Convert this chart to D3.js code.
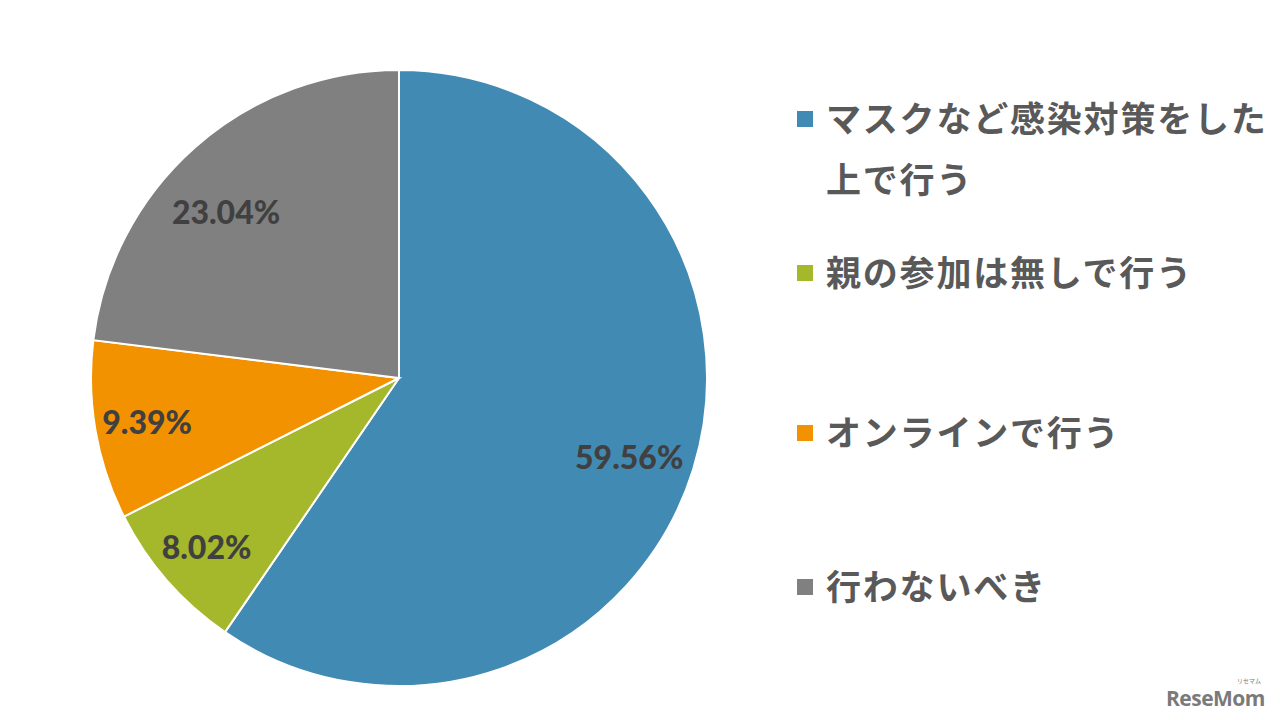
<!DOCTYPE html>
<html><head><meta charset="utf-8">
<script src="https://cdn.jsdelivr.net/npm/d3@7"></script>
<style>body{margin:0;background:#fff;}svg{display:block;}</style>
</head><body>
<svg id="c" width="1280" height="720"></svg>
<script>
const categories = ["マスクなど感染対策をした上で行う","親の参加は無しで行う","オンラインで行う","行わないべき"];
const legendLines = [["マスクなど感染対策をした","上で行う"],["親の参加は無しで行う"],["オンラインで行う"],["行わないべき"]];
const values = [59.56, 8.02, 9.39, 23.04];
const labels = ["59.56%","8.02%","9.39%","23.04%"];
const colors = ["#418AB3","#A5B72A","#F39200","#808080"];

const svg = d3.select("#c");
const cx = 399, cy = 378, R = 308;
const g = svg.append("g").attr("transform", `translate(${cx},${cy})`);
const pie = d3.pie().sort(null).value(d => d)(values);
const arc = d3.arc().innerRadius(0).outerRadius(R);
g.selectAll("path").data(pie).join("path")
  .attr("d", arc).attr("fill", (d,i) => colors[i])
  .attr("stroke", "#fff").attr("stroke-width", 2);
// label placement (radius fraction, angle nudge in radians)
const lblR = [0.79, 0.83, 0.83, 0.78];
const lblNudge = [0.03, 0, 0, -0.08];
g.selectAll("text.lbl").data(pie).join("text").attr("class","lbl")
  .attr("transform", (d,i) => {
    const a = (d.startAngle + d.endAngle)/2 + lblNudge[i], r = R*lblR[i];
    return `translate(${Math.sin(a)*r},${-Math.cos(a)*r})`;
  })
  .attr("text-anchor","middle").attr("dominant-baseline","central")
  .attr("font-family","Lato, 'Open Sans', sans-serif").attr("font-weight","900")
  .attr("font-size", 32).attr("fill","#404040")
  .text((d,i) => labels[i]);

const legY = [116, 270, 430, 584];
const lg = svg.append("g");
legendLines.forEach((lines, i) => {
  lg.append("rect").attr("x", 797).attr("y", legY[i]-5).attr("width", 16).attr("height", 16).attr("fill", colors[i]);
  lines.forEach((t, j) => {
    lg.append("text").attr("x", 826).attr("y", legY[i] + j*61)
      .attr("dominant-baseline","central")
      .attr("font-family","'Noto Sans CJK JP', sans-serif").attr("font-weight","bold")
      .attr("font-size", 35).attr("letter-spacing", 1.8).attr("fill","#595959")
      .text(t);
  });
});

svg.append("text").attr("x", 1265).attr("y", 706).attr("text-anchor","end")
  .attr("font-family","'Open Sans', sans-serif").attr("font-weight","bold")
  .attr("font-size", 21).attr("fill","#7a7a7a").attr("letter-spacing",-0.5).text("ReseMom");
svg.append("text").attr("x", 1261).attr("y", 683).attr("text-anchor","end")
  .attr("font-family","'Noto Sans CJK JP', sans-serif")
  .attr("font-size", 6).attr("fill","#7a7a7a").text("リセマム");
</script>
</body></html>
